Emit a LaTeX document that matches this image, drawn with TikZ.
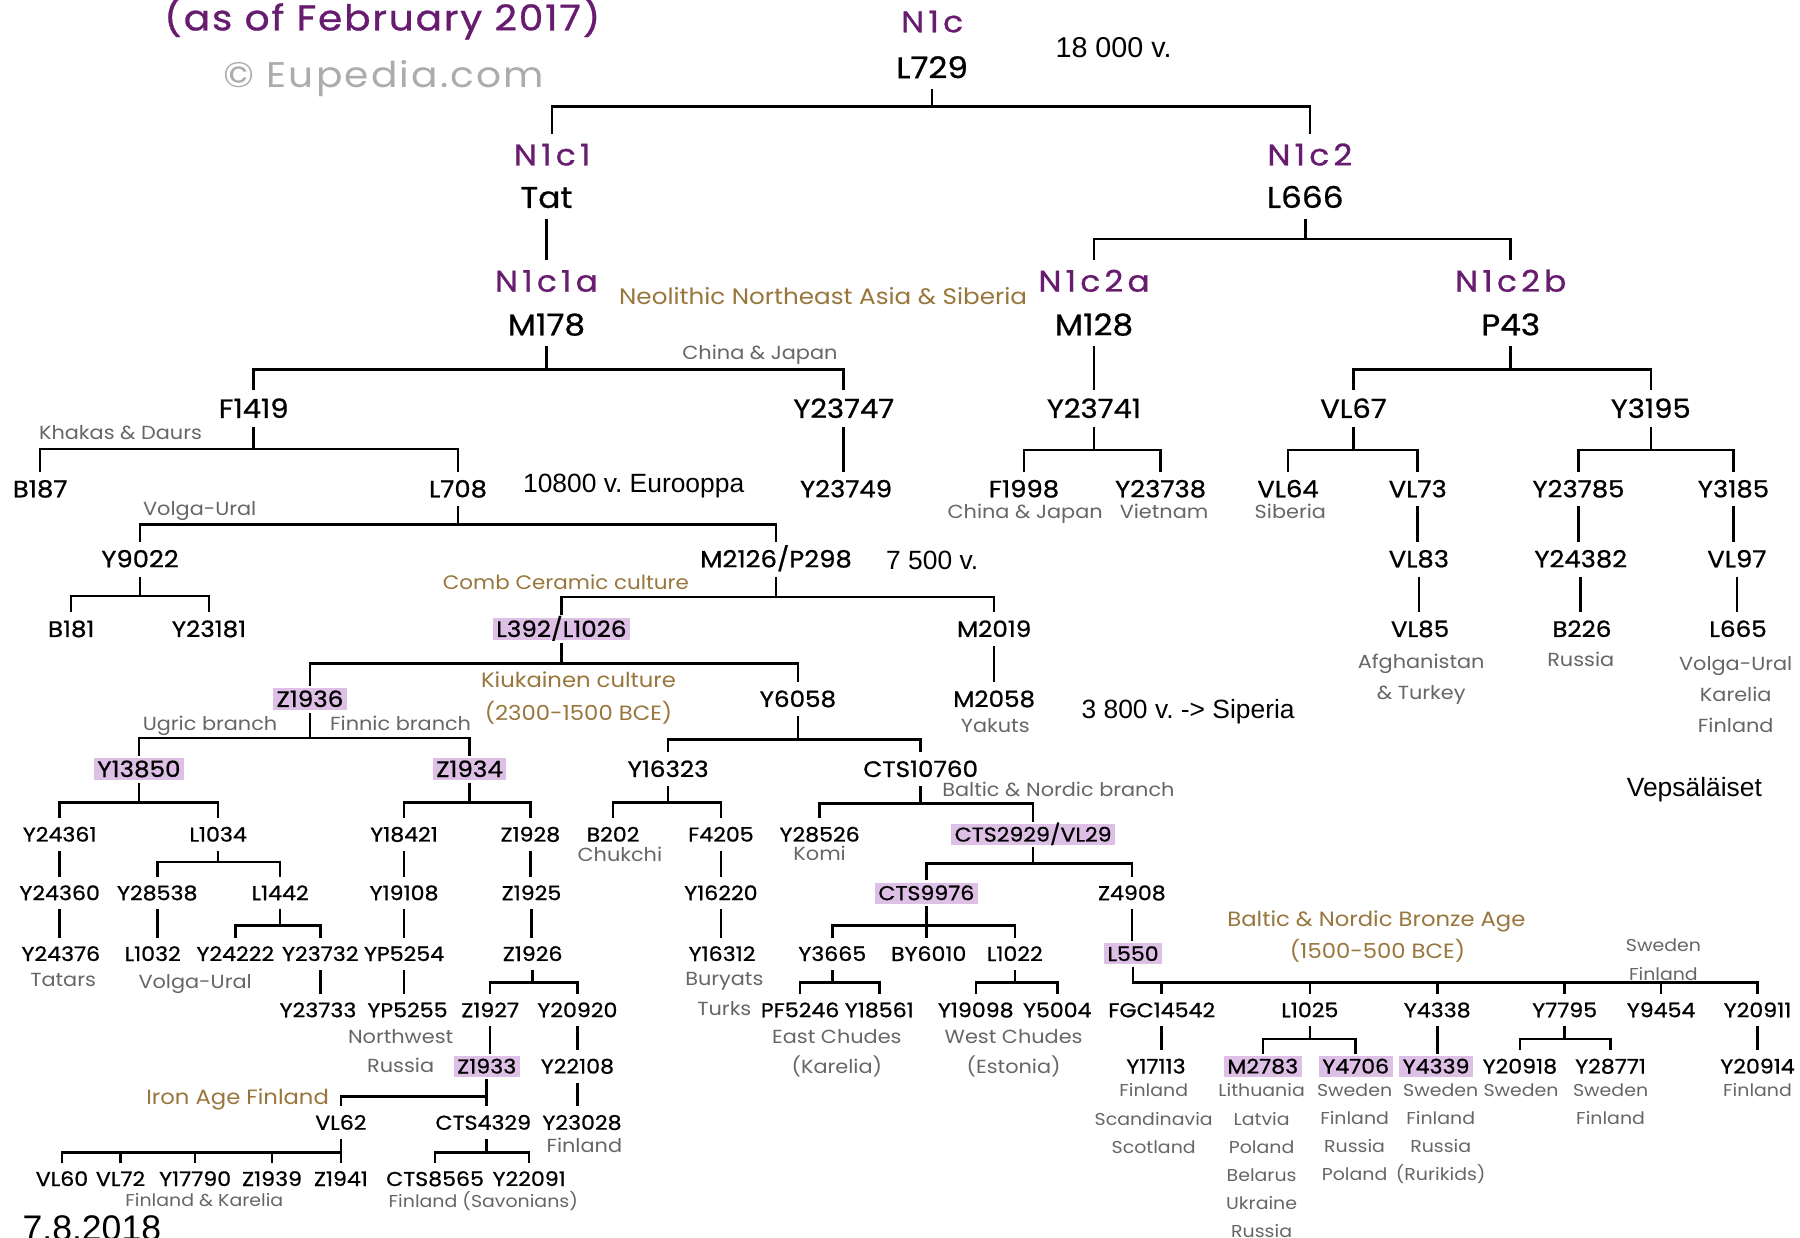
\documentclass[tikz,border=0pt]{standalone}
\usepackage{fontspec}
\setmainfont{Poppins}[FakeStretch=1.1, Numbers=Monospaced]
\newfontfamily\idfont{Poppins}[FakeStretch=1.1, Numbers=Monospaced, FakeBold=0.8]
\newfontfamily\arialfont{Liberation Sans}
\definecolor{hapurple}{RGB}{104,28,112}
\definecolor{culturebrown}{RGB}{152,118,60}
\definecolor{regiongray}{RGB}{102,102,102}
\definecolor{cladepink}{RGB}{222,192,230}
\definecolor{markgray}{RGB}{172,172,172}
\frenchspacing

\begin{document}
\begin{tikzpicture}[x=1pt, y=-1pt, line width=2.2pt,
  snp/.style={inner xsep=3pt, inner ysep=2.5pt, outer ysep=5.5pt, text depth=0pt},
  sA/.style={snp, outer ysep=7pt, font=\idfont\fontsize{26}{28}\selectfont, text height=18.2pt},
  sB/.style={snp, font=\idfont\fontsize{23}{25}\selectfont, text height=16.1pt},
  sC/.style={snp, font=\idfont\fontsize{20.5}{23}\selectfont, text height=14.4pt},
  sD/.style={snp, font=\idfont\fontsize{19.5}{22}\selectfont, text height=13.7pt},
  sE/.style={snp, font=\idfont\fontsize{17.5}{20}\selectfont, text height=12.3pt},
  hap/.style={text=hapurple, font=\idfont\fontsize{26}{28}\selectfont\addfontfeature{LetterSpace=14}},
  key/.style={fill=cladepink, inner ysep=3pt, outer ysep=2pt},
  reg/.style={text=regiongray, inner sep=0pt, font=\fontsize{16.5}{18}\selectfont,
    text height=11.5pt, text depth=0pt},
  regs/.style={reg, font=\fontsize{15}{17}\selectfont, text height=10.5pt},
  regcol/.style={text=regiongray, inner sep=0pt, anchor=north, align=center,
    font=\fontsize{16.5}{27}\selectfont},
  regcols/.style={regcol, font=\fontsize{15}{24.5}\selectfont},
  cult/.style={text=culturebrown, inner sep=0pt, font=\fontsize{18}{20}\selectfont,
    text height=12.6pt, text depth=0pt},
  note/.style={inner sep=0pt, font=\arialfont\fontsize{23}{26}\selectfont,
    text height=16.5pt, text depth=0pt}]
\useasboundingbox (0,0) rectangle (1568,1078);
\fill[white] (0,0) rectangle (1568,1078);
% Heading
\node[text=hapurple, inner sep=0pt, text height=21pt, text depth=0pt,
  font=\idfont\fontsize{31}{33}\selectfont\addfontfeature{LetterSpace=5}]
  (title) at (333,16) {(as of February 2017)};
\node[text=markgray, inner sep=0pt, text height=21pt, text depth=0pt,
  font=\fontsize{31}{33}\selectfont\addfontfeature{LetterSpace=6}]
  (mark) at (334,66) {© Eupedia.com};
% Root and main branches
\node[sA, hap] (n1c)   at (812,19)   {N1c};
\node[sA]      (l729)  at (812,59)   {L729};
\node[note, font=\arialfont\fontsize{25}{27}\selectfont] (age18) at (970,42) {18 000 v.};
\node[sA, hap] (n1c1)  at (481,135)  {N1c1};
\node[sA]      (tat)   at (476,172)  {Tat};
\node[sA, hap] (n1c1a) at (476,245)  {N1c1a};
\node[sA]      (m178)  at (476,283)  {M178};
\node[sA, hap] (n1c2)  at (1141,135) {N1c2};
\node[sA]      (l666)  at (1137,172) {L666};
\node[sA, hap] (n1c2a) at (953,245)  {N1c2a};
\node[sA]      (m128)  at (953,283)  {M128};
\node[sA, hap] (n1c2b) at (1316,245) {N1c2b};
\node[sA]      (p43)   at (1316,283) {P43};
\node[cult, font=\fontsize{19.5}{21}\selectfont] (neo) at (717,259)
  {Neolithic Northeast Asia \& Siberia};
% Second level
\node[sB] (f1419)  at (221,356)  {F1419};
\node[sB] (y23747) at (735,356)  {Y23747};
\node[sB] (y23741) at (953,356)  {Y23741};
\node[sB] (vl67)   at (1179,356) {VL67};
\node[sB] (y3195)  at (1438,356) {Y3195};
\node[reg] (chjp1) at (662,307)  {China \& Japan};
\node[reg] (khak)  at (105,377)  {Khakas \& Daurs};
% Third level
\node[sC] (b187)   at (35,426)   {B187};
\node[sC] (l708)   at (399,426)  {L708};
\node[sC] (y23749) at (737,426)  {Y23749};
\node[sC] (f1998)  at (892,426)  {F1998};
\node[sC] (y23738) at (1011,426) {Y23738};
\node[sC] (vl64)   at (1122,426) {VL64};
\node[sC] (vl73)   at (1235,426) {VL73};
\node[sC] (y23785) at (1375,426) {Y23785};
\node[sC] (y3185)  at (1510,426) {Y3185};
\node[reg] (chjp2) at (893,446)  {China \& Japan};
\node[reg] (viet)  at (1014,446) {Vietnam};
\node[reg] (sib)   at (1124,446) {Siberia};
\node[note] (age108) at (552,421) {10800 v. Eurooppa};
\node[sC] (y9022)  at (122,487)  {Y9022};
\node[sC] (m2126)  at (676,487)  {M2126/P298};
\node[sC] (vl83)   at (1236,487) {VL83};
\node[sC] (y24382) at (1377,487) {Y24382};
\node[sC] (vl97)   at (1513,487) {VL97};
\node[reg] (volga1) at (174,443) {Volga-Ural};
\node[note] (age75) at (812,488) {7 500 v.};
% Comb Ceramic level
\node[sD]      (b181)   at (62,548)   {B181};
\node[sD]      (y23181) at (182,548)  {Y23181};
\node[sD, key] (l392)   at (489,548)  {L392/L1026};
\node[sD]      (m2019)  at (866,548)  {M2019};
\node[sD]      (vl85)   at (1237,548) {VL85};
\node[sD]      (b226)   at (1378,548) {B226};
\node[sD]      (l665)   at (1514,548) {L665};
\node[cult, font=\fontsize{17}{19}\selectfont] (comb) at (493,507) {Comb Ceramic culture};
\node[regcol] (afg)   at (1238,569) {Afghanistan\\\& Turkey};
\node[reg]    (rus1)  at (1377,575) {Russia};
\node[regcol] (volga2) at (1512,571) {Volga-Ural\\Karelia\\Finland};
\node[sD, key] (z1936) at (270,609) {Z1936};
\node[sD]      (y6058) at (695,609) {Y6058};
\node[sD]      (m2058) at (866,609) {M2058};
\node[reg]  (yak)   at (867,632) {Yakuts};
\node[cult] (kiuk)  at (504,593) {Kiukainen culture};
\node[cult] (kiukd) at (504,621) {(2300-1500 BCE)};
\node[note] (age38) at (1035,618) {3 800 v. -> Siperia};
\node[sD, key] (y13850)   at (121,670) {Y13850};
\node[sD, key] (z1934)    at (409,670) {Z1934};
\node[sD]      (y16323)   at (582,670) {Y16323};
\node[sD]      (cts10760) at (802,670) {CTS10760};
\node[reg] (ugric)  at (183,631) {Ugric branch};
\node[reg] (finnic) at (349,631) {Finnic branch};
\node[reg] (baltic) at (922,688) {Baltic \& Nordic branch};
\node[note] (veps) at (1476,686) {Vepsäläiset};
% Lower levels
\node[sE]      (y24361)  at (52,727)  {Y24361};
\node[sE]      (l1034)   at (190,727) {L1034};
\node[sE]      (y18421)  at (352,727) {Y18421};
\node[sE]      (z1928)   at (462,727) {Z1928};
\node[sE]      (b202)    at (534,727) {B202};
\node[sE]      (f4205)   at (628,727) {F4205};
\node[sE]      (y28526)  at (714,727) {Y28526};
\node[sE, key] (cts2929) at (900,727) {CTS2929/VL29};
\node[reg] (chuk) at (540,745) {Chukchi};
\node[reg] (komi) at (714,744) {Komi};
\node[sE]      (y24360)  at (52,778)  {Y24360};
\node[sE]      (y28538)  at (137,778) {Y28538};
\node[sE]      (l1442)   at (244,778) {L1442};
\node[sE]      (y19108)  at (352,778) {Y19108};
\node[sE]      (z1925)   at (463,778) {Z1925};
\node[sE]      (y16220)  at (628,778) {Y16220};
\node[sE, key] (cts9976) at (807,778) {CTS9976};
\node[sE]      (z4908)   at (986,778) {Z4908};
\node[sE]      (y24376)  at (53,831)  {Y24376};
\node[sE]      (l1032)   at (133,831) {L1032};
\node[sE]      (y24222)  at (205,831) {Y24222};
\node[sE]      (y23732)  at (279,831) {Y23732};
\node[sE]      (yp5254)  at (352,831) {YP5254};
\node[sE]      (z1926)   at (464,831) {Z1926};
\node[sE]      (y16312)  at (629,831) {Y16312};
\node[sE]      (y3665)   at (725,831) {Y3665};
\node[sE]      (by6010)  at (809,831) {BY6010};
\node[sE]      (l1022)   at (884,831) {L1022};
\node[sE, key] (l550)    at (987,831) {L550};
\node[reg] (tatars) at (55,854)  {Tatars};
\node[reg] (volga3) at (170,855) {Volga-Ural};
\node[regcol, font=\fontsize{16.5}{26}\selectfont] (bury) at (631,846) {Buryats\\Turks};
\node[cult] (bronze)  at (1199,801) {Baltic \& Nordic Bronze Age};
\node[cult] (bronzed) at (1200,829) {(1500-500 BCE)};
\node[regcols] (swfi) at (1449,817) {Sweden\\Finland};
\node[sE] (y23733)   at (277,880)  {Y23733};
\node[sE] (yp5255)   at (355,880)  {YP5255};
\node[sE] (z1927)    at (427,880)  {Z1927};
\node[sE] (y20920)   at (503,880)  {Y20920};
\node[sE] (pf5246)   at (697,880)  {PF5246};
\node[sE] (y18561)   at (766,880)  {Y18561};
\node[sE] (y19098)   at (850,880)  {Y19098};
\node[sE] (y5004)    at (921,880)  {Y5004};
\node[sE] (fgc14542) at (1012,880) {FGC14542};
\node[sE] (l1025)    at (1141,880) {L1025};
\node[sE] (y4338)    at (1252,880) {Y4338};
\node[sE] (y7795)    at (1363,880) {Y7795};
\node[sE] (y9454)    at (1447,880) {Y9454};
\node[sE] (y20911)   at (1531,880) {Y20911};
\node[regcol, font=\fontsize{16.5}{25}\selectfont] (nwru) at (349,896) {Northwest\\Russia};
\node[regcol, font=\fontsize{16.5}{26}\selectfont] (ech)  at (729,896) {East Chudes\\(Karelia)};
\node[regcol, font=\fontsize{16.5}{26}\selectfont] (wch)  at (883,896) {West Chudes\\(Estonia)};
\node[sE, key] (z1933)  at (424,929)  {Z1933};
\node[sE]      (y22108) at (503,929)  {Y22108};
\node[sE]      (y17113) at (1007,929) {Y17113};
\node[sE, key] (m2783)  at (1100,929) {M2783};
\node[sE, key] (y4706)  at (1181,929) {Y4706};
\node[sE, key] (y4339)  at (1251,929) {Y4339};
\node[sE]      (y20918) at (1324,929) {Y20918};
\node[sE]      (y28771) at (1403,929) {Y28771};
\node[sE]      (y20914) at (1531,929) {Y20914};
\node[regcols] (r17113) at (1005,943) {Finland\\Scandinavia\\Scotland};
\node[regcols] (r2783)  at (1099,943) {Lithuania\\Latvia\\Poland\\Belarus\\Ukraine\\Russia};
\node[regcols] (r4706)  at (1180,943) {Sweden\\Finland\\Russia\\Poland};
\node[regcols] (r4339)  at (1255,943) {Sweden\\Finland\\Russia\\(Rurikids)};
\node[regcols] (r20918) at (1325,943) {Sweden};
\node[regcols] (r28771) at (1403,943) {Sweden\\Finland};
\node[regcols] (r20914) at (1531,943) {Finland};
\node[cult] (iron) at (207,956) {Iron Age Finland};
\node[sE] (vl62)    at (297,978) {VL62};
\node[sE] (cts4329) at (421,978) {CTS4329};
\node[sE] (y23028)  at (507,978) {Y23028};
\node[reg] (fin3) at (509,998) {Finland};
\node[sE] (vl60)    at (54,1027)  {VL60};
\node[sE] (vl72)    at (105,1027) {VL72};
\node[sE] (y17790)  at (170,1027) {Y17790};
\node[sE] (z1939)   at (237,1027) {Z1939};
\node[sE] (z1941)   at (297,1027) {Z1941};
\node[sE] (cts8565) at (379,1027) {CTS8565};
\node[sE] (y22091)  at (461,1027) {Y22091};
\node[regs] (finkar) at (178,1046) {Finland \& Karelia};
\node[regs] (savo)   at (421,1047) {Finland (Savonians)};
\node[note, font=\arialfont\fontsize{31}{33}\selectfont, text height=22pt]
  (date) at (80,1070) {7.8.2018};
% Tree lines, top
\draw (l729.south) -- (l729.south |- 0,93);
\draw (n1c1.north) -- (n1c1.north |- 0,93) -- (n1c2.north |- 0,93) -- (n1c2.north);
\draw (tat.south) -- (tat.south |- n1c1a.north);
\draw (l666.south) -- (l666.south |- 0,208);
\draw (n1c2a.north) -- (n1c2a.north |- 0,208) -- (n1c2b.north |- 0,208) -- (n1c2b.north);
\draw (m178.south) -- (m178.south |- 0,322);
\draw (f1419.north) -- (f1419.north |- 0,322) -- (y23747.north |- 0,322) -- (y23747.north);
\draw (m128.south) -- (m128.south |- y23741.north);
\draw (p43.south) -- (p43.south |- 0,322);
\draw (vl67.north) -- (vl67.north |- 0,322) -- (y3195.north |- 0,322) -- (y3195.north);
\draw (f1419.south) -- (f1419.south |- 0,391);
\draw (b187.north) -- (b187.north |- 0,391) -- (l708.north |- 0,391) -- (l708.north);
\draw (y23747.south) -- (y23747.south |- y23749.north);
\draw (y23741.south) -- (y23741.south |- 0,392);
\draw (f1998.north) -- (f1998.north |- 0,392) -- (y23738.north |- 0,392) -- (y23738.north);
\draw (vl67.south) -- (vl67.south |- 0,392);
\draw (vl64.north) -- (vl64.north |- 0,392) -- (vl73.north |- 0,392) -- (vl73.north);
\draw (y3195.south) -- (y3195.south |- 0,392);
\draw (y23785.north) -- (y23785.north |- 0,392) -- (y3185.north |- 0,392) -- (y3185.north);
\draw (vl73.south) -- (vl73.south |- vl83.north);
\draw (y23785.south) -- (y23785.south |- y24382.north);
\draw (y3185.south) -- (y3185.south |- vl97.north);
\draw (vl83.south) -- (vl83.south |- vl85.north);
\draw (y24382.south) -- (y24382.south |- b226.north);
\draw (vl97.south) -- (vl97.south |- l665.north);
% Tree lines, L708 side
\draw (l708.south) -- (l708.south |- 0,457);
\draw (y9022.north) -- (y9022.north |- 0,457) -- (m2126.north |- 0,457) -- (m2126.north);
\draw (y9022.south) -- (y9022.south |- 0,519);
\draw (b181.north) -- (b181.north |- 0,519) -- (y23181.north |- 0,519) -- (y23181.north);
\draw (m2126.south) -- (m2126.south |- 0,520);
\draw (l392.north) -- (l392.north |- 0,520) -- (m2019.north |- 0,520) -- (m2019.north);
\draw (m2019.south) -- (m2019.south |- m2058.north);
\draw (l392.south) -- (l392.south |- 0,578);
\draw (z1936.north) -- (z1936.north |- 0,578) -- (y6058.north |- 0,578) -- (y6058.north);
\draw (z1936.south) -- (z1936.south |- 0,643);
\draw (y13850.north) -- (y13850.north |- 0,643) -- (z1934.north |- 0,643) -- (z1934.north);
\draw (y6058.south) -- (y6058.south |- 0,644);
\draw (y16323.north) -- (y16323.north |- 0,644) -- (cts10760.north |- 0,644) -- (cts10760.north);
% Ugric and Finnic branches
\draw (y13850.south) -- (y13850.south |- 0,699);
\draw (y24361.north) -- (y24361.north |- 0,699) -- (l1034.north |- 0,699) -- (l1034.north);
\draw (y24361.south) -- (y24361.south |- y24360.north);
\draw (y24360.south) -- (y24360.south |- y24376.north);
\draw (l1034.south) -- (l1034.south |- 0,751);
\draw (y28538.north) -- (y28538.north |- 0,751) -- (l1442.north |- 0,751) -- (l1442.north);
\draw (y28538.south) -- (y28538.south |- l1032.north);
\draw (l1442.south) -- (l1442.south |- 0,806);
\draw (y24222.north) -- (y24222.north |- 0,806) -- (y23732.north |- 0,806) -- (y23732.north);
\draw (y23732.south) -- (y23732.south |- y23733.north);
\draw (z1934.south) -- (z1934.south |- 0,699);
\draw (y18421.north) -- (y18421.north |- 0,699) -- (z1928.north |- 0,699) -- (z1928.north);
\draw (y18421.south) -- (y18421.south |- y19108.north);
\draw (y19108.south) -- (y19108.south |- yp5254.north);
\draw (yp5254.south) -- (yp5254.south |- yp5255.north);
\draw (z1928.south) -- (z1928.south |- z1925.north);
\draw (z1925.south) -- (z1925.south |- z1926.north);
\draw (z1926.south) -- (z1926.south |- 0,856);
\draw (z1927.north) -- (z1927.north |- 0,856) -- (y20920.north |- 0,856) -- (y20920.north);
\draw (z1927.south) -- (z1927.south |- z1933.north);
\draw (y20920.south) -- (y20920.south |- y22108.north);
\draw (y22108.south) -- (y22108.south |- y23028.north);
\draw (z1933.south) -- (z1933.south |- cts4329.north);
\draw (vl62.north) -- (vl62.north |- 0,955) -- (z1933.south |- 0,955);
\draw (vl62.south) -- (vl62.south |- 0,1004);
\draw (vl60.north) -- (vl60.north |- 0,1004) -- (z1941.north |- 0,1004) -- (z1941.north);
\draw (vl72.north) -- (vl72.north |- 0,1004);
\draw (y17790.north) -- (y17790.north |- 0,1004);
\draw (z1939.north) -- (z1939.north |- 0,1004);
\draw (z1933.south |- cts4329.south) -- (z1933.south |- 0,1004);
\draw (cts8565.north) -- (cts8565.north |- 0,1004) -- (y22091.north |- 0,1004) -- (y22091.north);
% Y6058 side
\draw (y16323.south) -- (y16323.south |- 0,699);
\draw (b202.north) -- (b202.north |- 0,699) -- (f4205.north |- 0,699) -- (f4205.north);
\draw (f4205.south) -- (f4205.south |- y16220.north);
\draw (y16220.south) -- (y16220.south |- y16312.north);
\draw (cts10760.south) -- (cts10760.south |- 0,700);
\draw (y28526.north) -- (y28526.north |- 0,700) -- (cts2929.north |- 0,700) -- (cts2929.north);
\draw (cts2929.south) -- (cts2929.south |- 0,752);
\draw (cts9976.north) -- (cts9976.north |- 0,752) -- (z4908.north |- 0,752) -- (z4908.north);
\draw (cts9976.south) -- (cts9976.south |- by6010.north);
\draw (y3665.north) -- (y3665.north |- 0,806) -- (l1022.north |- 0,806) -- (l1022.north);
\draw (y3665.south) -- (y3665.south |- 0,856);
\draw (pf5246.north) -- (pf5246.north |- 0,856) -- (y18561.north |- 0,856) -- (y18561.north);
\draw (l1022.south) -- (l1022.south |- 0,856);
\draw (y19098.north) -- (y19098.north |- 0,856) -- (y5004.north |- 0,856) -- (y5004.north);
\draw (z4908.south) -- (z4908.south |- l550.north);
% L550 comb
\draw (l550.south) -- (l550.south |- 0,856) -- (y20911.north |- 0,856) -- (y20911.north);
\draw (fgc14542.north) -- (fgc14542.north |- 0,856);
\draw (l1025.north) -- (l1025.north |- 0,856);
\draw (y4338.north) -- (y4338.north |- 0,856);
\draw (y7795.north) -- (y7795.north |- 0,856);
\draw (y9454.north) -- (y9454.north |- 0,856);
\draw (fgc14542.south) -- (fgc14542.south |- y17113.north);
\draw (l1025.south) -- (l1025.south |- 0,905);
\draw (m2783.north) -- (m2783.north |- 0,905) -- (y4706.north |- 0,905) -- (y4706.north);
\draw (y4338.south) -- (y4338.south |- y4339.north);
\draw (y7795.south) -- (y7795.south |- 0,905);
\draw (y20918.north) -- (y20918.north |- 0,905) -- (y28771.north |- 0,905) -- (y28771.north);
\draw (y20911.south) -- (y20911.south |- y20914.north);
\end{tikzpicture}
\end{document}
